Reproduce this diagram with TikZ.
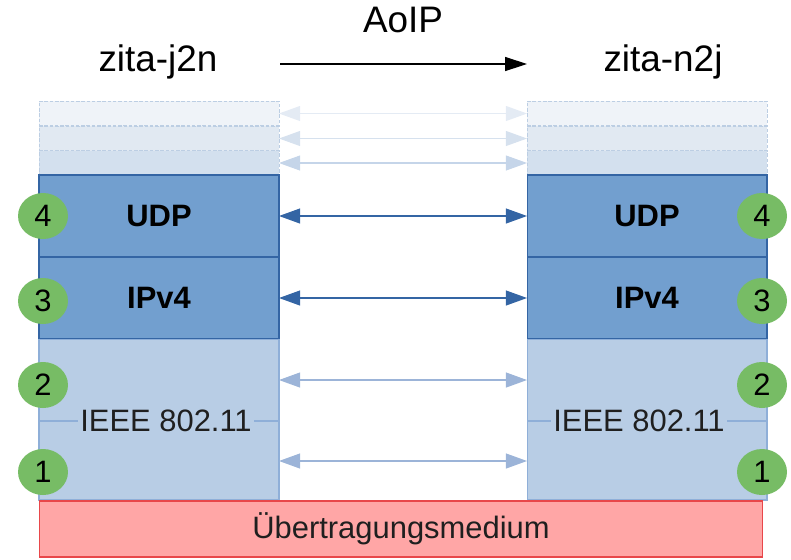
\documentclass[tikz,border=0pt]{standalone}
\usepackage{fontspec}
\setmainfont{Liberation Sans}
\usetikzlibrary{shapes.geometric,arrows.meta}
\definecolor{layerdark}{HTML}{729FCF}
\definecolor{layerdarkline}{HTML}{3465A4}
\definecolor{layerlight}{HTML}{B8CDE5}
\definecolor{layerlightline}{HTML}{8FAFD8}
\definecolor{linkarrow}{HTML}{9CB4D8}
\definecolor{fadeA}{HTML}{EFF3F8}
\definecolor{fadeB}{HTML}{E1E9F2}
\definecolor{fadeC}{HTML}{D3E0EE}
\definecolor{fadearrowA}{HTML}{E4EBF4}
\definecolor{fadearrowB}{HTML}{D6E1EE}
\definecolor{fadearrowC}{HTML}{C5D5E9}
\definecolor{fadeline}{HTML}{BCCEE3}
\definecolor{numgreen}{HTML}{77BC65}
\definecolor{mediumfill}{HTML}{FFA6A6}
\definecolor{mediumline}{HTML}{E8474A}

\begin{document}
\begin{tikzpicture}[x=0.02cm,y=-0.02cm,
  bigtext/.style={font=\fontsize{21}{24}\selectfont},
  layer/.style={rectangle,draw=layerdarkline,fill=layerdark,line width=0.6pt,
    minimum width=4.8cm,inner sep=0pt,outer sep=0pt,font=\fontsize{17.6}{20}\selectfont\bfseries},
  fadelayer/.style={rectangle,draw=fadeline,dash pattern=on 2pt off 1pt,line width=0.5pt,
    minimum width=4.8cm,minimum height=0.49cm,inner sep=0pt,outer sep=0pt},
  linklayer/.style={rectangle,draw=layerlightline,fill=layerlight,line width=0.6pt,
    minimum width=4.8cm,minimum height=3.22cm,inner sep=0pt,outer sep=0pt},
  num/.style={ellipse,fill=numgreen,minimum width=1cm,minimum height=0.92cm,inner sep=0pt,
    font=\fontsize{17.6}{20}\selectfont},
  peer/.style={{Triangle[length=12pt,width=8.5pt]}-{Triangle[length=12pt,width=8.5pt]},line width=0.7pt},
  lbl/.style={font=\fontsize{17.6}{20}\selectfont,text=black!88,inner sep=1.5pt}]
\useasboundingbox (0,0) rectangle (791,559);

% titles
\node[bigtext] (j2n) at (158,62) {zita-j2n};
\node[bigtext] (n2j) at (663,62) {zita-n2j};
\node[bigtext] (aoip) at (403,20) {AoIP};
\coordinate (aoipA) at (280,64);
\coordinate (aoipB) at (527,64);
\draw[-{Triangle[length=12.5pt,width=8pt]},line width=0.6pt] (aoipA) -- (aoipB);

% faded upper layers
\node[fadelayer,fill=fadeA] (fadeAL) at (159,113.5) {};
\node[fadelayer,fill=fadeB] (fadeBL) at (159,138.5) {};
\node[fadelayer,fill=fadeC] (fadeCL) at (159,163) {};
\node[fadelayer,fill=fadeA] (fadeAR) at (647,113.5) {};
\node[fadelayer,fill=fadeB] (fadeBR) at (647,138.5) {};
\node[fadelayer,fill=fadeC] (fadeCR) at (647,163) {};
\draw[peer,line width=0.6pt,fadearrowA] (fadeAL.east) -- (fadeAR.west);
\draw[peer,line width=0.6pt,fadearrowB] (fadeBL.east) -- (fadeBR.west);
\draw[peer,line width=0.6pt,fadearrowC] (fadeCL.east) -- (fadeCR.west);

% transport and network layer
\node[layer,minimum height=1.64cm] (udpL) at (159,216) {UDP};
\node[layer,minimum height=1.64cm] (ipL) at (159,298) {IPv4};
\node[layer,minimum height=1.64cm] (udpR) at (647,216) {UDP};
\node[layer,minimum height=1.64cm] (ipR) at (647,298) {IPv4};
\draw[peer,layerdarkline] (udpL.east) -- (udpR.west);
\draw[peer,layerdarkline] (ipL.east) -- (ipR.west);

% link layer
\node[linklayer] (wlanL) at (159,419.5) {};
\node[linklayer] (wlanR) at (647,419.5) {};
\draw[layerlightline,line width=0.6pt] (39,421) -- (279,421);
\draw[layerlightline,line width=0.6pt] (527,421) -- (767,421);
\node[lbl,fill=layerlight] (wlanLtxt) at (166,421) {IEEE 802.11};
\node[lbl,fill=layerlight] (wlanRtxt) at (639,421) {IEEE 802.11};
\draw[peer,linkarrow] ([yshift=0.79cm]wlanL.east) -- ([yshift=0.79cm]wlanR.west);
\draw[peer,linkarrow] ([yshift=-0.83cm]wlanL.east) -- ([yshift=-0.83cm]wlanR.west);

% medium
\node[rectangle,draw=mediumline,fill=mediumfill,line width=0.6pt,minimum width=14.48cm,
  minimum height=1.12cm,inner sep=0pt,lbl] (medium) at (401,529) {Übertragungsmedium};

% layer numbers
\node[num] (n4L) at (43,216) {4};
\node[num] (n3L) at (43,301) {3};
\node[num] (n2L) at (43,385) {2};
\node[num] (n1L) at (43,472) {1};
\node[num] (n4R) at (762,216) {4};
\node[num] (n3R) at (762,301) {3};
\node[num] (n2R) at (762,385) {2};
\node[num] (n1R) at (762,472) {1};
\end{tikzpicture}
\end{document}
